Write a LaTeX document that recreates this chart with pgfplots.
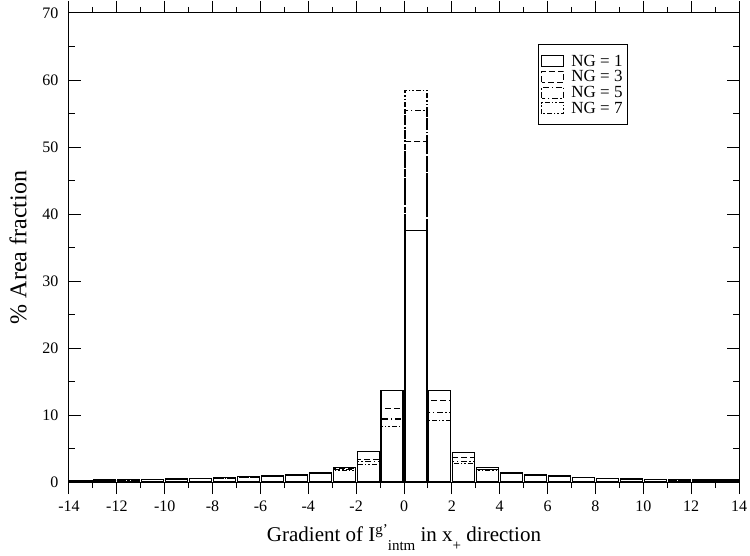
\documentclass[border=0pt]{standalone}
\usepackage{fontspec}
\setmainfont{Liberation Serif}
\usepackage{pgfplots}
\usepackage{pgfplotstable}
\pgfplotsset{compat=1.18}

% Area fraction (%) per unit-wide gradient bin, bins centred at k+0.5
\pgfplotstableread{
x     ng1    ng3    ng5    ng7
-13.5 0.25   0.22   0.20   0.18
-12.5 0.30   0.27   0.25   0.23
-11.5 0.35   0.32   0.30   0.28
-10.5 0.40   0.37   0.35   0.33
-9.5  0.45   0.42   0.40   0.38
-8.5  0.55   0.52   0.50   0.48
-7.5  0.65   0.62   0.60   0.58
-6.5  0.80   0.76   0.74   0.72
-5.5  0.95   0.90   0.88   0.86
-4.5  1.10   1.05   1.02   1.00
-3.5  1.35   1.30   1.27   1.25
-2.5  2.20   1.95   1.85   1.75
-1.5  4.50   3.40   3.00   2.60
-0.5  13.60  11.00  9.40   8.30
0.5   37.60  50.80  55.50  58.50
1.5   13.60  12.10  10.40  9.20
2.5   4.40   3.60   3.00   2.70
3.5   2.20   1.90   1.80   1.70
4.5   1.35   1.30   1.27   1.25
5.5   1.10   1.05   1.02   1.00
6.5   0.90   0.86   0.84   0.82
7.5   0.70   0.67   0.65   0.63
8.5   0.55   0.52   0.50   0.48
9.5   0.45   0.42   0.40   0.38
10.5  0.40   0.37   0.35   0.33
11.5  0.35   0.32   0.30   0.28
12.5  0.30   0.27   0.25   0.23
13.5  0.30   0.27   0.25   0.23
}\histdata

\tikzset{
  ngone/.style={solid},
  ngthree/.style={dash pattern=on 6pt off 3pt},
  ngfive/.style={dash pattern=on 6pt off 2.5pt on 1.5pt off 2.5pt},
  ngseven/.style={dash pattern=on 5pt off 2pt on 1.5pt off 2pt on 1.5pt off 2pt},
}

\begin{document}
\begin{tikzpicture}
\begin{axis}[
  scale only axis,
  width=670pt, height=469pt,
  xmin=-14, xmax=14, ymin=0, ymax=70,
  xtick distance=2, ytick distance=10,
  minor x tick num=1, minor y tick num=1,
  tick align=inside,
  major tick length=12pt, minor tick length=6pt,
  axis line style={line width=1pt},
  every tick/.style={black, line width=1pt},
  /pgf/number format/assume math mode=true,
  tick label style={font=\fontsize{16}{16}\selectfont},
  xticklabel style={yshift=-3pt},
  yticklabel style={xshift=-7pt},
  xlabel={Gradient of I\raisebox{0.8ex}{\fontsize{15}{15}\selectfont g’}\raisebox{-0.85ex}{\fontsize{15}{15}\selectfont intm} in x\raisebox{-0.85ex}{\fontsize{15}{15}\selectfont +} direction},
  ylabel={\% Area fraction},
  xlabel style={font=\fontsize{21}{24}\selectfont, yshift=-6pt},
  ylabel style={font=\fontsize{24}{26}\selectfont, yshift=9pt},
  ybar, bar width=0.92, bar shift=0pt,
  reverse legend,
  legend cell align=left,
  legend style={at={(0.700,0.933)}, anchor=north west,
    draw=black, line width=0.8pt,
    font=\fontsize{17}{17}\selectfont,
    row sep=1pt, inner xsep=3pt, inner ysep=9pt,
    nodes={inner xsep=2pt, inner ysep=1pt},
    /tikz/every odd column/.append style={column sep=5pt}},
  legend image code/.code={%
    \draw[#1, line width=1pt] (0pt,-5.5pt) rectangle (22pt,5.5pt);},
]
\addplot[draw=black, fill=none, line width=1.1pt, ngseven] table[x=x, y=ng7] {\histdata};
\addplot[draw=black, fill=none, line width=1.1pt, ngfive] table[x=x, y=ng5] {\histdata};
\addplot[draw=black, fill=none, line width=1.1pt, ngthree] table[x=x, y=ng3] {\histdata};
\addplot[draw=black, fill=none, line width=1.1pt, ngone] table[x=x, y=ng1] {\histdata};
\legend{NG = 7, NG = 5, NG = 3, NG = 1}
\end{axis}
\pgfresetboundingbox
\path (current axis.south west) ++(-69pt,-73pt) rectangle ([shift={(11pt,13pt)}]current axis.north east);
\end{tikzpicture}
\end{document}
